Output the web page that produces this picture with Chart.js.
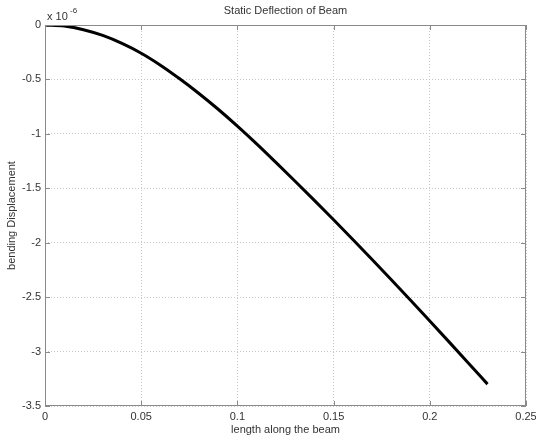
<!DOCTYPE html>
<html>
<head>
<meta charset="utf-8">
<script src="https://cdn.jsdelivr.net/npm/chart.js@4"></script>
<style>
  html, body { margin: 0; padding: 0; background: #fff; }
  #wrap { width: 536px; height: 441px; }
</style>
</head>
<body>
<div id="wrap"><canvas id="beamChart" width="536" height="441"></canvas></div>
<script>
// position along the beam (m)
const beamX = [0, 0.01, 0.02, 0.03, 0.04, 0.05, 0.06, 0.07, 0.08, 0.09,
               0.10, 0.11, 0.12, 0.13, 0.14, 0.15, 0.16, 0.17, 0.18, 0.19, 0.20,
               0.21, 0.22, 0.23];
// deflection, in units of 1e-6
const beamDefl = [0, -0.010, -0.043, -0.096, -0.169, -0.259, -0.369, -0.494, -0.629, -0.774,
                  -0.929, -1.092, -1.262, -1.435, -1.611, -1.789, -1.970, -2.154, -2.340, -2.528,
                  -2.719, -2.911, -3.104, -3.299];

const xTicks = [0, 0.05, 0.1, 0.15, 0.2, 0.25];
const yTicks = [0, -0.5, -1, -1.5, -2, -2.5, -3, -3.5];

const FONT = "'Liberation Sans', Arial, sans-serif";
const TXT = "#333";
const FRAME = "#8a8a8a";

const points = beamX.map((x, i) => ({ x: x, y: beamDefl[i] }));

// matlab-ish frame: box on all sides, ticks pointing inward, exponent note, titles
const frameDeco = {
    id: "frameDeco",
    afterDraw(chart) {
        const c = chart.ctx;
        const a = chart.chartArea;
        const sx = chart.scales.x, sy = chart.scales.y;
        c.save();
        c.strokeStyle = FRAME;
        c.lineWidth = 1;
        c.strokeRect(a.left + 0.5, a.top + 0.5, a.right - a.left - 1, a.bottom - a.top - 1);
        c.beginPath();
        xTicks.forEach(v => {
            const px = Math.round(sx.getPixelForValue(v)) + 0.5;
            c.moveTo(px, a.bottom); c.lineTo(px, a.bottom - 5);
            c.moveTo(px, a.top); c.lineTo(px, a.top + 5);
        });
        yTicks.forEach(v => {
            const py = Math.round(sy.getPixelForValue(v)) + 0.5;
            c.moveTo(a.left, py); c.lineTo(a.left + 5, py);
            c.moveTo(a.right, py); c.lineTo(a.right - 5, py);
        });
        c.stroke();

        c.fillStyle = TXT;
        c.textBaseline = "alphabetic";
        c.font = "11px " + FONT;
        c.textAlign = "center";
        c.fillText("Static Deflection of Beam", (a.left + a.right) / 2, 14);
        c.fillText("length along the beam", (a.left + a.right) / 2, 433);

        c.textAlign = "left";
        c.fillText("x 10", a.left + 2, 20);
        c.font = "8px " + FONT;
        c.fillText("-6", a.left + 25, 13);

        c.font = "11px " + FONT;
        c.textAlign = "center";
        c.translate(15, (a.top + a.bottom) / 2);
        c.rotate(-Math.PI / 2);
        c.fillText("bending Displacement", 0, 0);
        c.restore();
    }
};

const chart = new Chart(document.getElementById("beamChart"), {
    type: "scatter",
    data: {
        datasets: [{
            data: points,
            showLine: true,
            borderColor: "#000",
            borderWidth: 3,
            pointRadius: 0,
            fill: false,
            cubicInterpolationMode: "monotone"
        }]
    },
    options: {
        responsive: false,
        animation: false,
        events: [],
        layout: { padding: { left: 0, right: 10, top: 25, bottom: 0 } },
        plugins: { legend: { display: false }, tooltip: { enabled: false } },
        scales: {
            x: {
                type: "linear",
                min: 0, max: 0.25,
                afterBuildTicks: s => { s.ticks = xTicks.map(v => ({ value: v })); },
                afterFit: s => { s.height = 35; s.paddingRight = 0; s.paddingLeft = 0; },
                grid: { color: "#c8c8c8", lineWidth: 1, drawTicks: false },
                border: { display: false, dash: [1, 2] },
                ticks: {
                    color: TXT, font: { family: FONT, size: 11 }, padding: 4,
                    maxRotation: 0, autoSkip: false,
                    callback: v => String(+v.toFixed(2))
                }
            },
            y: {
                type: "linear",
                min: -3.5, max: 0,
                afterBuildTicks: s => { s.ticks = yTicks.map(v => ({ value: v })); },
                afterFit: s => { s.width = 45; s.paddingTop = 0; s.paddingBottom = 0; },
                grid: { color: "#c8c8c8", lineWidth: 1, drawTicks: false },
                border: { display: false, dash: [1, 2] },
                ticks: {
                    color: TXT, font: { family: FONT, size: 11 }, padding: 4,
                    autoSkip: false,
                    callback: v => String(+v.toFixed(2))
                }
            }
        }
    },
    plugins: [frameDeco]
});
</script>
</body>
</html>
